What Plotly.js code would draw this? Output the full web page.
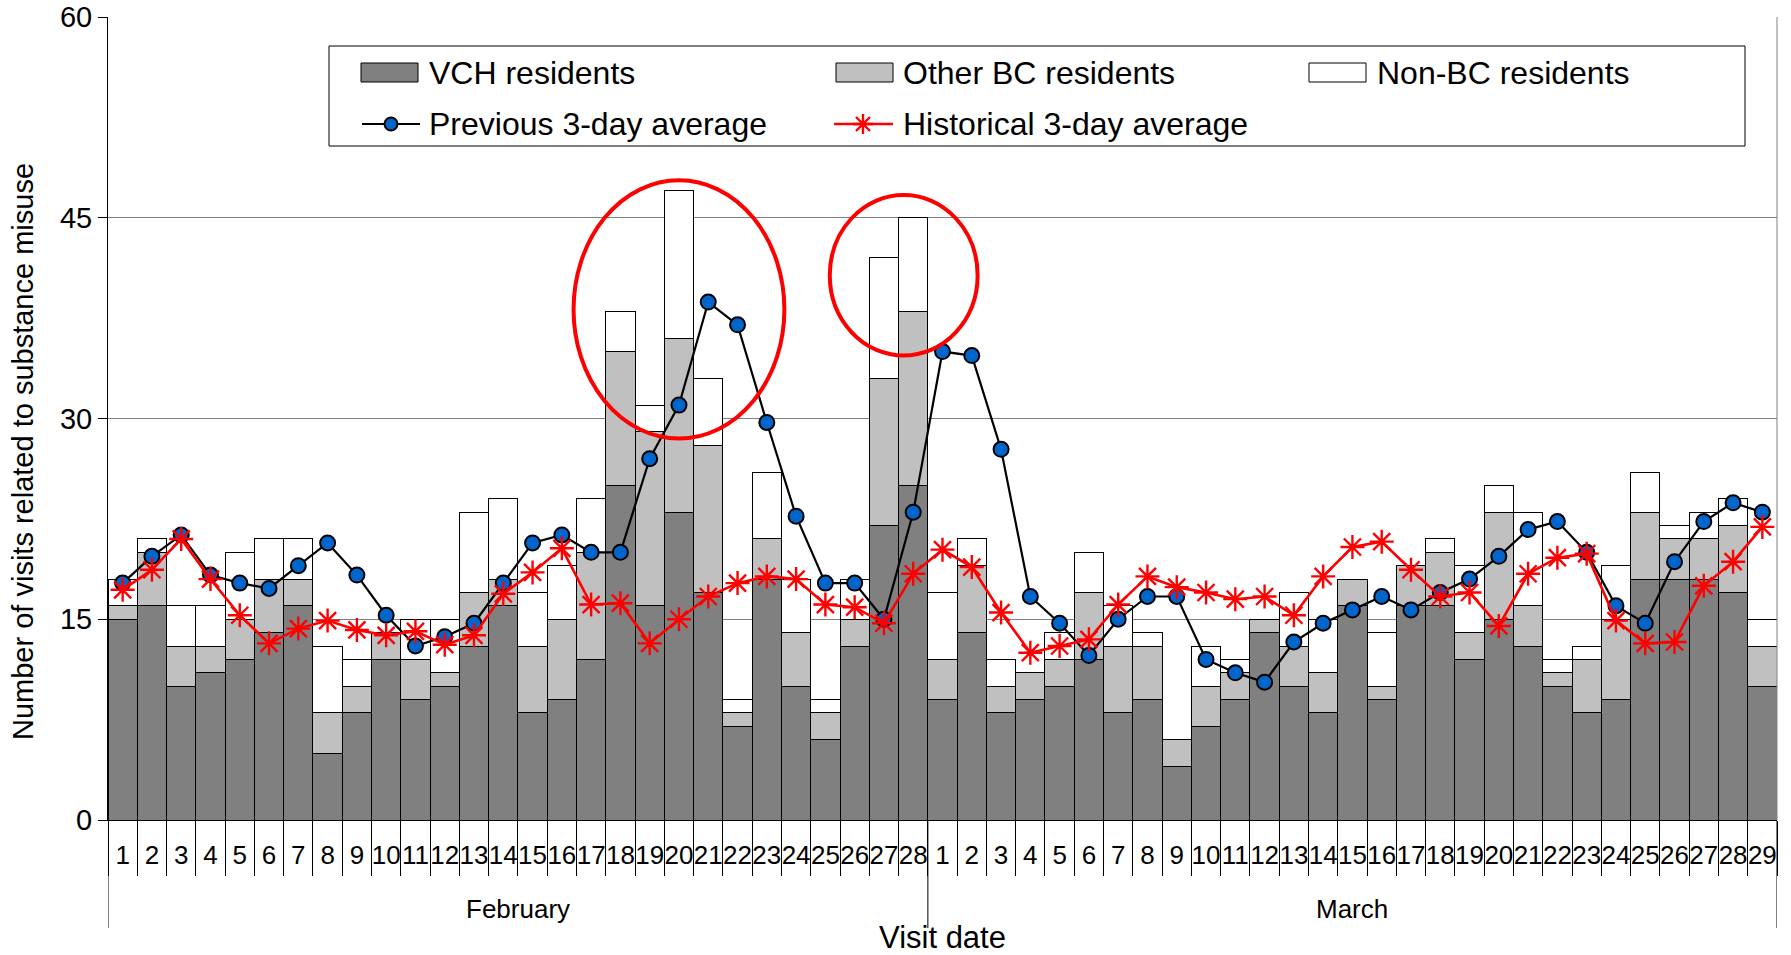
<!DOCTYPE html>
<html><head><meta charset="utf-8">
<script src="https://cdn.plot.ly/plotly-3.0.1.min.js"></script>
<style>html,body{margin:0;padding:0;background:#fff}#chart{width:1791px;height:955px}</style>
</head><body><div id="chart"></div>
<script>
// ---- data ----
const febDays = ['1','2','3','4','5','6','7','8','9','10','11','12','13','14','15','16','17','18','19','20','21','22','23','24','25','26','27','28'];
const marDays = ['1','2','3','4','5','6','7','8','9','10','11','12','13','14','15','16','17','18','19','20','21','22','23','24','25','26','27','28','29'];
const months = ['February', 'March'];
const yTicks = [0, 15, 30, 45, 60];
const xTitle = 'Visit date';
const yTitle = 'Number of visits related to substance misuse';

const vchResidents = [15,16,10,11,12,14,16,5,8,12,9,10,13,16,8,9,12,25,16,23,17,7,18,10,6,13,22,25,
                      9,14,8,9,10,12,8,9,4,7,9,14,10,8,16,9,16,16,12,15,13,10,8,9,18,18,18,17,10];
const otherBCResidents = [1,4,3,2,3,4,2,3,2,2,3,1,4,2,5,6,8,10,13,13,11,1,3,4,2,2,11,13,
                          3,5,2,2,2,5,5,4,2,3,2,1,3,3,2,1,3,4,2,8,3,1,4,6,5,3,3,5,3];
const nonBCResidents = [2,1,3,3,5,3,3,5,2,0,3,4,6,6,4,4,4,3,2,11,5,1,5,4,1,3,9,7,
                        5,2,2,0,2,3,3,1,0,3,1,0,4,4,0,4,0,1,5,2,7,1,1,4,3,1,2,2,2];
const previous3DayAvg = [17.7,19.7,21.3,18.3,17.7,17.3,19.0,20.7,18.3,15.3,13.0,13.7,14.7,17.7,20.7,21.3,20.0,20.0,27.0,31.0,38.7,37.0,29.7,22.7,17.7,17.7,15.0,23.0,
                         35.0,34.7,27.7,16.7,14.7,12.3,15.0,16.7,16.7,12.0,11.0,10.3,13.3,14.7,15.7,16.7,15.7,17.0,18.0,19.7,21.7,22.3,20.0,16.0,14.7,19.3,22.3,23.7,23.0];
const historical3DayAvg = [17.2,18.7,21.0,18.0,15.3,13.2,14.3,14.9,14.2,13.8,14.1,13.1,13.8,16.9,18.5,20.3,16.1,16.2,13.2,15.0,16.7,17.7,18.2,18.0,16.1,15.9,14.7,18.4,
                           20.2,18.9,15.5,12.5,13.0,13.5,16.1,18.2,17.4,17.0,16.5,16.7,15.3,18.2,20.4,20.8,18.7,16.7,17.0,14.5,18.4,19.6,19.9,14.9,13.2,13.3,17.5,19.3,21.9];
const seriesNames = ['VCH residents', 'Other BC residents', 'Non-BC residents', 'Previous 3-day average', 'Historical 3-day average'];

// ---- build ----
const dayLabels = febDays.concat(marDays);
const idx = dayLabels.map((_, i) => i);
const FONT = 'Liberation Sans, Arial, sans-serif';
const W = 1791, H = 955, ML = 108, MR = 14, MT = 17, MB = 135;
const PW = W - ML - MR, PH = H - MT - MB;
const px = x => (x - ML) / PW;          // pixel -> paper x
const py = y => (H - MB - y) / PH;       // pixel -> paper y

const barLine = {color: '#000', width: 1};
const traces = [
  {type: 'bar', name: seriesNames[0], x: idx, y: vchResidents, marker: {color: '#808080', line: barLine}},
  {type: 'bar', name: seriesNames[1], x: idx, y: otherBCResidents, marker: {color: '#C0C0C0', line: barLine}},
  {type: 'bar', name: seriesNames[2], x: idx, y: nonBCResidents, marker: {color: '#FFFFFF', line: barLine}},
  {type: 'scatter', mode: 'lines+markers', name: seriesNames[3], x: idx, y: previous3DayAvg,
   line: {color: '#000', width: 2.2},
   marker: {symbol: 'circle', size: 15, color: '#0066CC', line: {color: '#000', width: 2}}},
  {type: 'scatter', mode: 'lines+markers', name: seriesNames[4], x: idx, y: historical3DayAvg,
   line: {color: '#FF0000', width: 2.6},
   marker: {symbol: 'asterisk-open', size: 20, color: '#FF0000', line: {color: '#FF0000', width: 2.4}}}
];
traces.forEach(t => { t.showlegend = false; t.hoverinfo = 'none'; });

const n = dayLabels.length;
const shapes = [];
const annotations = [];
// month separators below the axis
[-0.5, febDays.length - 0.5, n - 0.5].forEach(xv => shapes.push({
  type: 'line', xref: 'x', yref: 'paper', x0: xv, x1: xv, y0: 0, y1: py(928),
  line: {color: '#000', width: 1}
}));
// right edge of plot area
shapes.push({type: 'line', xref: 'paper', yref: 'paper', x0: 1, x1: 1, y0: 0, y1: 1, line: {color: '#808080', width: 1}});
// month labels
const monthStarts = [0, febDays.length];
const monthLens = [febDays.length, marDays.length];
months.forEach((m, i) => annotations.push({
  xref: 'x', yref: 'paper', x: monthStarts[i] + (monthLens[i] - 1) / 2, y: py(909),
  text: m, showarrow: false, xanchor: 'center', yanchor: 'middle', font: {size: 26, color: '#000', family: FONT}
}));
// y axis title
annotations.push({xref: 'paper', yref: 'paper', x: px(23), y: py(452), textangle: -90, xanchor: 'center', yanchor: 'middle',
  text: yTitle, showarrow: false, font: {size: 29, color: '#000', family: FONT}});
// red highlight ellipses
shapes.push({type: 'circle', xref: 'x', yref: 'y', x0: 15.4, x1: 22.6, y0: 28.5, y1: 47.8, line: {color: '#FF0000', width: 4}, layer: 'above'});
shapes.push({type: 'circle', xref: 'x', yref: 'y', x0: 24.15, x1: 29.2, y0: 34.7, y1: 46.7, line: {color: '#FF0000', width: 4}, layer: 'above'});

// ---- legend box (drawn) ----
shapes.push({type: 'rect', xref: 'paper', yref: 'paper', x0: px(329), x1: px(1745), y0: py(146), y1: py(46),
  line: {color: '#000', width: 1}, fillcolor: '#FFFFFF', layer: 'above'});
const row1 = 72.5, row2 = 124;
const swatchX = [361, 836, 1309];
const swatchFill = ['#808080', '#C0C0C0', '#FFFFFF'];
const textX = [427, 901, 1375];
const LFS = 32;
for (let i = 0; i < 3; i++) {
  shapes.push({type: 'rect', xref: 'paper', yref: 'paper', x0: px(swatchX[i]), x1: px(swatchX[i] + 57),
    y0: py(row1 + 9.5), y1: py(row1 - 9.5), fillcolor: swatchFill[i], line: {color: '#000', width: 1}, layer: 'above'});
  annotations.push({xref: 'paper', yref: 'paper', x: px(textX[i]), y: py(row1), xanchor: 'left', yanchor: 'middle',
    text: seriesNames[i], showarrow: false, font: {size: LFS, color: '#000', family: FONT}});
}
// previous avg sample
shapes.push({type: 'line', xref: 'paper', yref: 'paper', x0: px(362), x1: px(420), y0: py(row2), y1: py(row2), line: {color: '#000', width: 2.2}, layer: 'above'});
shapes.push({type: 'circle', xref: 'paper', yref: 'paper', xsizemode: 'pixel', ysizemode: 'pixel', xanchor: px(391), yanchor: py(row2),
  x0: -6.5, x1: 6.5, y0: -6.5, y1: 6.5, fillcolor: '#0066CC', line: {color: '#000', width: 2}, layer: 'above'});
annotations.push({xref: 'paper', yref: 'paper', x: px(427), y: py(row2), xanchor: 'left', yanchor: 'middle',
  text: seriesNames[3], showarrow: false, font: {size: LFS, color: '#000', family: FONT}});
// historical avg sample
shapes.push({type: 'line', xref: 'paper', yref: 'paper', x0: px(834), x1: px(893), y0: py(row2), y1: py(row2), line: {color: '#FF0000', width: 2.6}, layer: 'above'});
shapes.push({type: 'path', xref: 'paper', yref: 'paper', xsizemode: 'pixel', ysizemode: 'pixel', xanchor: px(863), yanchor: py(row2),
  path: 'M-10,0H10M0,-10V10M-7,-7L7,7M-7,7L7,-7', line: {color: '#FF0000', width: 2.4}, layer: 'above'});
annotations.push({xref: 'paper', yref: 'paper', x: px(901), y: py(row2), xanchor: 'left', yanchor: 'middle',
  text: seriesNames[4], showarrow: false, font: {size: LFS, color: '#000', family: FONT}});

const minorX = idx.map(i => i - 0.5).concat([n - 0.5]);

const layout = {
  width: W, height: H,
  margin: {l: ML, r: MR, t: MT, b: MB, pad: 0},
  paper_bgcolor: '#fff', plot_bgcolor: '#fff',
  font: {family: FONT, color: '#000'},
  barmode: 'stack', bargap: 0,
  showlegend: false,
  xaxis: {
    range: [-0.5, n - 0.5], tickmode: 'array', tickvals: idx, ticktext: dayLabels, tickangle: 0,
    ticks: '', showgrid: false, zeroline: false, showline: true, linecolor: '#000', linewidth: 1,
    tickfont: {size: 26, family: FONT, color: '#000'}, ticklabelstandoff: 12,
    minor: {tickmode: 'array', tickvals: minorX, ticks: 'outside', ticklen: 55, tickcolor: '#000', tickwidth: 1, showgrid: false},
    title: {text: xTitle, font: {size: 31, family: FONT, color: '#000'}, standoff: 61},
    fixedrange: true
  },
  yaxis: {
    range: [0, 60], tickmode: 'array', tickvals: yTicks, ticktext: yTicks.map(String),
    ticks: 'outside', ticklen: 9, tickcolor: '#000', tickwidth: 1,
    showgrid: false, zeroline: false, showline: true, linecolor: '#000', linewidth: 1,
    minor: {tickmode: 'array', tickvals: yTicks.slice(1, -1), ticks: '', showgrid: true, gridcolor: '#808080', gridwidth: 1},
    tickfont: {size: 29, family: FONT, color: '#000'},
    fixedrange: true
  },
  shapes: shapes,
  annotations: annotations
};

Plotly.newPlot('chart', traces, layout, {displayModeBar: false, staticPlot: true});
</script>
</body></html>
